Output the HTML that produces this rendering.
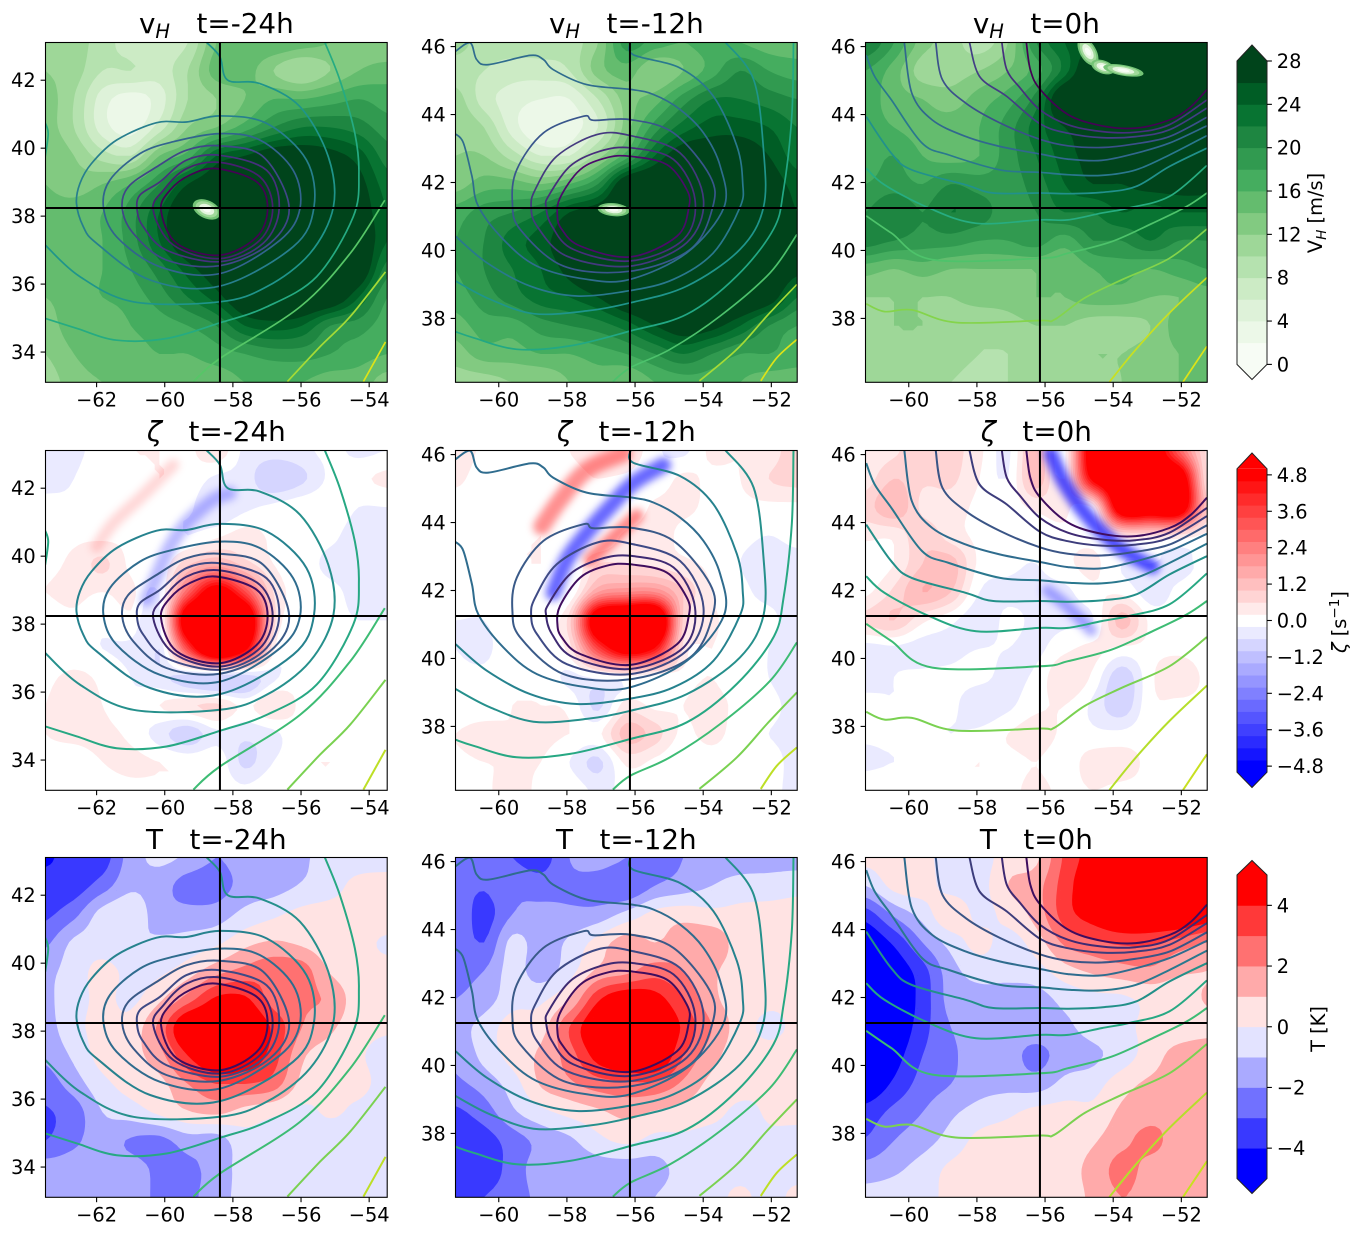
<!DOCTYPE html>
<html lang="en">
<head>
<meta charset="utf-8">
<title>Cyclone composite panels</title>
<style>
html,body{margin:0;padding:0;background:#fff;}
svg{display:block;}
text{font-family:"DejaVu Sans","Liberation Sans",sans-serif;fill:#000;}
</style>
</head>
<body>
<svg id="figure" xmlns="http://www.w3.org/2000/svg" width="1363" height="1234" viewBox="0 0 1363 1234">
<defs><filter id="stripe-blur" x="-30%" y="-30%" width="160%" height="160%"><feGaussianBlur stdDeviation="4"/></filter></defs>
</svg>
<script>
/* ---------- labels & ticks ---------- */
const timeLabels = ['t=-24h', 't=-12h', 't=0h'];
const lonStart = [-63.5, -61.27, -61.27];
const latTop = [43.11, 46.12, 46.12];
const lonTicks = [[-62,-60,-58,-56,-54], [-60,-58,-56,-54,-52], [-60,-58,-56,-54,-52]];
const latTicks = [[34,36,38,40,42], [38,40,42,44,46], [38,40,42,44,46]];
const crossLon = [-58.38, -56.15, -56.15];
const crossLat = [38.24, 41.25, 41.25];

const vhLevels = [0,2,4,6,8,10,12,14,16,18,20,22,24,26,28];
const vortLevels = [-5,-4.6,-4.2,-3.8,-3.4,-3,-2.6,-2.2,-1.8,-1.4,-1,-0.6,-0.2,0.2,0.6,1,1.4,1.8,2.2,2.6,3,3.4,3.8,4.2,4.6,5];
const tempLevels = [-5,-4,-3,-2,-1,0,1,2,3,4,5];
const vhTicks = [0,4,8,12,16,20,24,28];
const vortTicks = [-4.8,-3.6,-2.4,-1.2,0,1.2,2.4,3.6,4.8];
const vortTickText = ['\u22124.8','\u22123.6','\u22122.4','\u22121.2','0.0','1.2','2.4','3.6','4.8'];
const tempTicks = [-4,-2,0,2,4];

/* ---------- wind speed fields (13 x 13, north to south) ---------- */
const vhGrid24 = [
[12,11,9,7,7,8,14,16,16,15,14,13,12],
[12,11,8,8,7,10,15,15,12,10,12,14,15],
[13,10,5,3,5,10,12,14,16,16,17,18,17],
[13,10,5,3,7,12,14,17,20,22,22,21,19],
[14,12,9,8,14,17,24,26,28,28,27,25,21],
[14,13,14,16,20,26,29,30,30,30,29,27,23],
[15,15,16,19,24,30,30,30,30,30,30,28,24],
[16,15,16,19,24,29,30,30,30,30,30,29,24],
[15,15,16,18,21,25,28,30,30,30,30,29,21],
[14,15,16,17,19,22,25,29,30,30,29,24,18],
[13,15,14,16,17,18,20,24,25,24,20,19,17],
[12,14,15,15,16,16,17,18,19,19,18,17,16],
[11,13,14,14,14,15,15,16,16,16,15,15,13]];
const vhGrid12 = [
[11,9,9,9,9,12,19,17,16,17,16,15,15],
[9,8,7,7,8,13,15,12,14,17,20,18,17],
[11,7,5,4,4,8,13,15,19,22,22,21,20],
[12,10,5,2,3,6,13,19,23,25,25,24,22],
[12,12,9,6,6,11,17,24,28,28,28,26,23],
[13,15,15,14,16,20,29,30,30,30,30,28,25],
[17,19,20,22,26,28,30,30,30,30,30,30,26],
[18,20,23,25,28,30,30,30,30,30,30,30,28],
[18,20,22,24,27,30,30,30,30,30,30,30,27],
[17,19,21,23,24,26,29,30,30,30,30,28,22],
[15,17,17,19,20,21,23,26,28,27,24,20,18],
[13,15,15,16,16,17,18,20,22,20,18,18,17],
[11,11,12,12,14,15,14,16,17,17,16,15,15]];
const vhGrid0 = [
[22,18,13,11,9,12,20,24,26,30,30,30,30],
[18,15,11,11,12,14,17,23,30,30,30,30,30],
[17,15,14,13,15,17,21,30,30,30,30,30,30],
[17,16,15,15,16,19,23,26,28,30,30,30,30],
[17,18,16,15,16,19,22,25,27,28,28,28,28],
[18,19,18,20,19,19,21,24,26,26,27,27,27],
[20,22,20,22,21,19,20,22,22,24,23,24,24],
[21,20,19,19,18,18,19,17,20,20,22,20,20],
[15,14,15,14,14,14,14,14,16,17,16,17,18],
[12,12,12,12,13,13,14,14,15,15,14,14,15],
[11,12,12,11,10,11,12,12,11,11,12,15,15],
[10,11,11,11,10,10,11,11,12,12,13,14,15],
[10,10,10,10,9,10,11,11,11,12,13,14,15]];

/* ---------- vorticity fields ---------- */
const vortGrid24 = [
[-.3,-.3,0,.2,.2,.1,.5,-.3,-.4,-.3,-.1,-.3,-.2],
[-.3,-.2,.1,.1,.2,.1,-.3,-.4,-1,-.7,-.1,.1,.3],
[-.1,-.1,.1,.2,.1,-.1,-.6,-.3,-.1,.1,.1,-.2,-.2],
[0,.1,.1,.1,-.1,-.2,.1,.4,.1,0,-.1,-.4,-.4],
[.1,.3,.7,.1,-.1,.9,1.5,.8,.2,0,-.3,-.3,-.3],
[.2,.3,.2,.3,-.2,3,5.5,3.5,.6,.1,-.1,-.3,-.3],
[0,.1,-.1,.1,-.3,6,7,6.5,.8,.1,-.1,-.2,-.2],
[-.2,-.1,-.2,-.3,-.6,3.5,7,5,.3,0,-.1,-.1,-.2],
[.1,.3,.1,-.2,-.5,-.8,-1,-.9,-.3,.1,0,-.1,-.2],
[.2,.4,.2,-.1,.2,.5,.7,.1,.6,.1,0,-.1,-.2],
[.2,.3,.3,.1,-.4,-.9,-.3,-.5,-.3,.1,-.1,-.2,-.2],
[.1,0,.2,.3,.2,.1,.1,-.7,-.2,.1,.2,-.1,-.2],
[-.2,-.2,0,.1,.1,.1,.1,-.1,.2,.1,0,-.2,-.2]];
const vortGrid12 = [
[.5,.1,0,0,.2,.4,.6,-.1,-.3,.3,.2,.3,1],
[.3,0,0,.1,.1,.2,.1,-.1,.3,.1,.2,.6,.8],
[0,0,0,.1,.2,.1,-.2,.3,.3,.1,.1,.1,.1],
[0,0,.1,.2,.1,-.2,.3,.4,.1,0,-.1,-.2,-.1],
[0,-.1,.1,.2,-.2,.6,.6,.5,.3,.1,-.2,-.3,-.3],
[0,-.1,0,-.1,-.2,1.8,2.2,2.2,1,.2,-.1,-.3,-.3],
[-.2,-.2,0,.1,.8,6,7,7,.9,.3,0,-.1,-.4],
[-.2,-.3,.1,.1,.4,3.5,5.5,4.5,.5,.2,.1,-.2,-.4],
[-.1,-.1,.1,.1,-.3,-.1,.1,-.1,.1,.2,0,-.2,-.4],
[-.1,-.1,.2,.2,.1,-.7,.4,.1,.2,.3,.1,-.1,-.3],
[.2,.4,.2,.3,.2,.1,1.2,.8,.1,.4,-.1,-.2,-.3],
[.1,.2,.2,.2,-.2,-.7,.3,.1,-.2,-.1,-.2,-.1,-.3],
[-.1,.1,.4,.1,.1,-.3,-.1,-.1,.1,.1,0,-.1,-.3]];
const vortGrid0 = [
[.3,.5,1,.8,.3,-.3,1.3,.1,6,6,6,3,.5],
[.4,1,.7,.7,.2,-.2,1.3,.2,5,6,6,6,.5],
[.8,1.4,.5,.4,.1,0,.3,.3,.3,6,6,6,1],
[.3,.3,.9,.4,.1,-.1,0,.1,.1,.5,.6,.5,.1],
[-.1,.2,1,1.2,.1,-.1,-.2,.1,.3,-.2,-.2,-.3,-.1],
[.1,.7,1.4,1,-.2,-.3,-.3,-.3,.1,.1,-.4,-.1,.1],
[.7,1,.3,-.1,-.5,-.1,-.3,-.3,-.2,1.2,.1,0,0],
[-.4,-.3,-.4,-.3,-.2,-.2,-.3,.1,.3,.1,.1,.1,0],
[-.6,-.2,-.1,-.1,-.1,-.3,-.1,.6,.1,-.9,.1,.5,.1],
[.1,-.2,-.1,-.1,-.5,-.3,.1,.2,-.3,-.9,.1,.1,.1],
[-.1,-.1,-.2,-.2,-.1,.2,.4,.1,-.1,-.1,.1,.1,.1],
[-.3,-.2,-.2,.1,.2,.1,.2,0,.4,.4,.1,.1,-.1],
[.1,.1,0,.1,.1,.1,.3,.1,.2,.1,.1,0,-.2]];

/* narrow vorticity streaks: peak value, width (deg), lon/lat path */
const vortStripes24 = [
  {value:-1.4, width:.4, path:[[-58.09,41.85],[-58.58,41.66],[-59.36,40.97],[-59.85,40.28],[-60.24,39.4],[-60.53,38.72]]},
  {value:.8, width:.35, path:[[-59.75,42.69],[-60.63,41.8],[-61.51,40.97],[-62,40.28]]}
];
const vortStripes12 = [
  {value:2.2, width:.5, path:[[-56.34,46.03],[-57.42,45.54],[-58.2,44.66],[-58.74,43.88]]},
  {value:-3, width:.45, path:[[-55.17,45.69],[-56.05,45.16],[-56.73,44.47],[-57.42,43.69],[-58,42.91],[-58.4,41.93]]},
  {value:2.4, width:.4, path:[[-55.95,44.2],[-57.32,42.91]]}
];
const vortStripes0 = [
  {value:-3.5, width:.42, path:[[-55.83,46.03],[-55.43,45.15],[-54.74,44.17],[-53.84,43.28],[-52.85,42.7]]},
  {value:-1.7, width:.35, path:[[-55.93,42],[-55.33,41.52],[-54.64,40.83]]}
];

/* ---------- temperature fields ---------- */
const tempGrid24 = [
[-4.2,-3.5,-3.5,-1.5,-.8,-1.2,-2,-1.5,-1.5,-1.2,-.5,-.5,-.3],
[-3.5,-3.5,-2.5,-1.2,-1.5,-2.5,-2.5,-1.6,-1.4,-.9,-.4,.3,.3],
[-3.2,-2.3,-.6,-.3,-1.5,-1.6,-1.5,-.7,-.2,.3,.4,.3,.4],
[-2.2,-.8,-.5,-1,-.8,-.6,-.2,.7,1.1,.8,.3,.2,-.1],
[-1.3,-.5,.3,-.3,-.2,.5,1.6,2.3,2.7,2.5,.9,.3,.2],
[-1.2,-.4,.2,-.2,.8,2.5,4.2,4.2,2.6,2.2,1.8,.4,.2],
[-1.4,-.3,.3,.4,2.3,5.5,5.5,5.5,3.8,2,1.2,.3,.1],
[-1.8,-.8,.4,.7,1.6,4,5.5,5,3.5,1.2,.5,.1,-.3],
[-2.5,-1.5,-.3,.4,.7,2,3,3,2.5,.7,.1,.2,-.3],
[-3.1,-2.5,-1,-.5,.2,.9,1.2,.6,.2,-.2,.1,-.2,-.5],
[-3,-2.2,-1.6,-2.1,-2.3,-1.5,-1.5,-.3,-.4,-.5,-.5,-.5,-.5],
[-1.5,-1.5,-1.6,-1.6,-2.2,-2.2,-1.6,-.6,-.7,-.5,-.5,-.5,-.5],
[-1.5,-1.5,-1.5,-1.5,-2.2,-2.2,-1.5,-.6,-.5,-.5,-.5,-.5,-.5]];
const tempGrid12 = [
[-2,-2.5,-3,-3.5,-2,-1.5,-2,-2.5,-2,-1.5,-1.5,-1.5,-1.5],
[-2.5,-2.9,-2.2,-2.5,-2.2,-2.5,-3,-2,-1.5,-1,-.6,-.5,-.3],
[-2.2,-3.4,-2,-1.7,-1.8,-1.6,-.7,.3,.6,.3,.3,.3,.3],
[-2.2,-3,-.7,-1.5,-.8,.4,1.5,1,1.6,1.7,.5,.2,.2],
[-2.2,-2,-.6,-1.5,-.4,1.2,1.7,2.5,2,1.2,.5,.3,.2],
[-2,-1.5,-.4,-.2,1,3.8,5,4.5,3,1.3,.5,.2,.2],
[-1.4,-.6,.5,.6,3,5.2,5.5,5.5,3.8,2,.5,-.2,.2],
[-1.8,-.7,.4,1.2,2.5,4.5,5.5,5.5,3,1.4,.4,.3,.4],
[-2.2,-1.6,-.5,1.1,1.8,2.5,2.8,2.8,1.8,.7,.3,.1,.3],
[-3.2,-2.5,-1.2,-.3,.3,.8,1.3,.9,.6,.3,-.2,.1,.3],
[-3.7,-3.5,-2.5,-1.7,-1.2,-.3,.2,-.3,-.2,-.4,-.5,-.2,-.4],
[-3.7,-3.8,-2.5,-1.6,-1.6,-1.5,-1.5,-1.4,-.6,-.5,-.5,-.5,-.5],
[-3.5,-3,-2.4,-1.8,-1.6,-1.5,-1.5,-1,-.5,-.5,.3,-.5,.4]];
const tempGrid0 = [
[.3,.3,.3,-.5,-.5,.5,.8,3.2,4.5,5,5,5,5],
[-1,.3,.4,-.4,-.4,1,1.6,3.5,5,5.5,5.5,5.5,5],
[-3.5,-1.8,-.6,.8,-.3,.4,1.4,3.5,4.6,5.5,5.5,5.5,4.8],
[-5,-3.8,-2,-.6,.3,-.4,.5,2.2,2.8,3.2,3.2,2.6,2],
[-5.5,-4.8,-3.4,-1.4,-.6,-.7,-.4,.6,1.2,1.6,1.8,1.2,1],
[-5.5,-5,-3.6,-1.6,-1.4,-1.4,-1.4,-.7,-.3,-.2,.3,.4,1.1],
[-5.5,-5,-3.4,-2,-1.6,-1.5,-1.4,-1.2,-.6,-.3,.3,.4,.7],
[-5.5,-4.5,-3,-2.2,-1.5,-1.6,-2.3,-1.5,-1.2,-.5,.5,1.4,1.6],
[-5,-3.8,-2.6,-2,-1.4,-1.3,-1.5,-.7,-.4,.6,1.2,1.4,1.3],
[-3.6,-2.7,-2,-1.2,-.6,-.2,.3,.4,.3,1.2,1.6,1.7,1.4],
[-2.9,-2,-1.4,-.6,.3,.5,.6,.6,.9,1.7,2.3,1.5,1.4],
[-1.6,-1.2,-.6,.2,.4,.4,.5,.7,1.3,2.4,1.6,1.4,1.4],
[-.6,-.5,-.4,.3,.4,.4,.5,.6,1.2,2,1.5,1.4,1.4]];

/* pale wind minimum in the storm eye: lon, lat, half-width, half-height (deg), tilt */
const eyeSpots24 = [[-58.77,38.2,.36,.22,25]];
const eyeSpots12 = [[-56.63,41.2,.39,.16,5]];
const eyeSpots0 = [[-54.74,45.85,.2,.38,-30],[-54.3,45.4,.3,.16,20],[-53.7,45.3,.5,.13,10]];

/* ---------- height contours in lon/lat ---------- */
const contourLines24 = [
[[-60.11,38.18],[-59.85,38.76],[-59.26,39.21],[-58.48,39.40],[-57.30,39.01],[-56.98,38.23],[-57.30,37.39],[-58.38,36.85],[-59.65,37.2]],
[[-60.34,38.18],[-60.04,38.76],[-59.36,39.4],[-58.38,39.58],[-57.21,39.16],[-56.83,38.23],[-57.21,37.29],[-58.38,36.75],[-59.75,37.15]],
[[-60.81,38.18],[-60.73,38.62],[-60.14,39.01],[-59.36,39.65],[-58.38,39.79],[-57.01,39.35],[-56.64,38.23],[-57.11,37.2],[-58.38,36.66],[-59.95,37.0],[-60.63,37.69]],
[[-61.25,38.23],[-61.07,38.86],[-60.24,39.45],[-59.36,39.94],[-58.38,40.07],[-57.11,39.75],[-56.35,38.27],[-56.91,37.2],[-58.38,36.54],[-59.95,36.71],[-60.92,37.49]],
[[-61.8,38.27],[-61.61,39.06],[-60.73,39.84],[-59.75,40.19],[-58.38,40.43],[-57.21,40.24],[-56.23,39.35],[-56.03,38.23],[-56.62,37.29],[-58.38,36.31],[-60.14,36.51],[-61.41,37.39]],
[[-62.59,38.37],[-62.49,38.96],[-62.15,39.55],[-61.41,40.24],[-60.24,40.75],[-59.36,40.77],[-58.38,40.95],[-57.01,40.73],[-55.84,39.65],[-55.62,38.27],[-56.23,37.1],[-58.38,35.94],[-60.43,36.12],[-62,37.2],[-62.39,37.69]],
[[-58.77,43.11],[-58.38,42.69],[-58.15,42],[-57.21,41.9],[-56.03,41.22],[-55.2,39.75],[-55.05,38.27],[-55.74,36.9],[-57.01,35.92],[-58.38,35.48],[-60.92,35.48],[-62.49,36.22],[-63.51,37.15]],
[[-55.3,43.11],[-54.86,42],[-54.42,40.43],[-54.3,39.25],[-54.47,37.98],[-55.54,36.22],[-57.01,35.33],[-58.38,34.86],[-59.95,34.4],[-61.41,34.35],[-62.59,34.7],[-63.51,34.99]],
[[-63.51,40.75],[-63.42,40.43],[-63.51,39.75]],
[[-53.54,38.47],[-54.56,36.9],[-56.03,35.33],[-58.38,33.81],[-59.16,33.13]],
[[-53.52,36.36],[-54.56,35.04],[-55.44,34.16],[-56.4,33.13]],
[[-53.52,34.3],[-54.17,33.13]]];
const contourLevel24 = [0,1,2,3,4,5,6,7,7,8,9,10];
const closedRings24 = 6;

const contourLines12 = [
[[-58.28,41.01],[-58.2,41.55],[-57.61,42.38],[-56.83,42.73],[-56.14,42.77],[-55.07,42.53],[-54.48,41.79],[-54.42,41.27],[-54.77,40.42],[-56.14,39.81],[-57.61,40.13],[-58.15,40.62]],
[[-58.61,41.27],[-58.54,41.6],[-57.91,42.48],[-57.03,42.92],[-56.14,43.02],[-54.87,42.68],[-54.24,41.5],[-54.58,40.32],[-56.14,39.69],[-57.81,40.03],[-58.44,40.72]],
[[-59.05,41.3],[-58.93,41.79],[-58.3,42.77],[-57.12,43.41],[-56.14,43.38],[-54.68,42.87],[-53.99,41.5],[-54.48,40.23],[-56.14,39.54],[-58,39.83],[-58.88,40.72]],
[[-59.6,41.4],[-59.47,42.38],[-58.69,43.46],[-57.51,43.95],[-57.22,43.83],[-56.14,43.85],[-54.87,43.46],[-53.8,42.19],[-53.72,41.27],[-54.38,40.03],[-56.14,39.39],[-58.1,39.54],[-59.37,40.62]],
[[-61.27,45.86],[-60.84,46.11],[-60.65,45.62],[-60.3,45.47],[-59.08,45.74],[-58.69,45.62],[-58.4,45.32],[-57.42,44.88],[-56.14,44.74],[-55.46,44.59],[-54.68,44.15],[-53.99,43.46],[-53.5,42.48],[-53.39,41.27],[-54.48,39.93],[-56.14,39.15],[-57.42,39.15],[-58.88,39.54],[-59.86,40.32],[-60.6,41.3],[-60.79,42.19],[-61.04,43.17],[-61.27,43.43]],
[[-56.13,46.14],[-56.05,45.76],[-54.68,45.37],[-53.7,44.54],[-53.01,43.07],[-52.84,41.99],[-52.92,41.27],[-53.7,39.93],[-54.87,39.15],[-56.14,38.82],[-57.71,38.66],[-59.08,38.95],[-60.35,39.64],[-61.27,40.42]],
[[-53.36,46.14],[-52.52,45.03],[-52.23,42.97],[-52.23,41.27],[-52.92,40.03],[-54.48,38.95],[-56.14,38.46],[-57.42,38.22],[-58.98,38.14],[-60.25,38.56],[-61.27,39.1]],
[[-51.35,46.14],[-51.4,43.95],[-51.64,41.79],[-51.94,40.62],[-53.01,39.25],[-54.48,38.12],[-56.14,37.63],[-57.91,37.19],[-59.47,37.09],[-60.74,37.43],[-61.27,37.61]],
[[-51.25,40.47],[-52.04,39.34],[-53.5,38.07],[-54.97,37.09],[-56.14,36.55],[-56.65,36.14]],
[[-51.25,39],[-52.13,38.07],[-53.01,37.09],[-54.11,36.16]],
[[-51.25,37.38],[-51.84,36.84],[-52.31,36.16]]];
const contourLevel12 = [0,1,2,3,4,5,6,7,8,9,10];
const closedRings12 = 4;

const contourLines0 = [
[[-56.55,46.13],[-56.43,45.31],[-56.15,44.75],[-55.33,44.0],[-54.34,43.67],[-53.34,43.6],[-52.35,43.84],[-51.75,44.2],[-51.25,44.73]],
[[-57.27,46.13],[-57.12,45.31],[-56.72,44.77],[-56.15,44.14],[-55.33,43.7],[-54.34,43.5],[-53.34,43.48],[-52.35,43.7],[-51.25,44.43]],
[[-58.22,46.13],[-57.92,45.12],[-57.12,44.53],[-56.15,43.73],[-55.33,43.45],[-54.34,43.32],[-53.34,43.35],[-52.35,43.55],[-51.25,44.19]],
[[-59.21,46.13],[-59.01,45.02],[-58.32,44.33],[-57.32,43.75],[-56.15,43.27],[-55.33,43.08],[-54.34,43.03],[-53.34,43.14],[-52.35,43.35],[-51.25,43.92]],
[[-60.13,46.13],[-59.91,44.63],[-59.31,43.84],[-58.32,43.35],[-57.32,43.06],[-56.15,42.84],[-55.33,42.69],[-54.34,42.65],[-53.34,42.86],[-52.35,43.16],[-51.25,43.67]],
[[-61.25,45.75],[-61.0,45.12],[-60.51,44.43],[-59.61,43.16],[-58.82,42.81],[-57.32,42.37],[-56.15,42.30],[-55.33,42.23],[-54.34,42.21],[-53.34,42.37],[-52.35,42.81],[-51.25,43.38]],
[[-61.25,43.94],[-60.51,42.86],[-59.91,42.37],[-58.32,41.93],[-57.52,41.69],[-56.15,41.69],[-55.33,41.67],[-54.34,41.71],[-53.34,41.88],[-52.35,42.47],[-51.25,43.01]],
[[-61.25,42.42],[-60.71,41.93],[-59.41,41.25],[-58.02,40.8],[-56.15,40.90],[-55.33,40.90],[-54.34,41.1],[-53.54,41.25],[-52.35,41.59],[-51.25,42.5]],
[[-61.25,41.02],[-60.51,40.51],[-59.31,39.73],[-56.15,39.77],[-55.33,39.92],[-54.04,40.26],[-52.85,40.8],[-51.85,41.29],[-51.25,41.69]],
[[-61.25,38.43],[-60.71,38.2],[-59.91,38.25],[-58.62,37.88],[-56.15,37.94],[-55.73,37.96],[-54.84,38.6],[-53.74,39.14],[-52.35,39.77],[-51.25,40.63]],
[[-54.11,36.13],[-53.34,37.08],[-52.35,38.16],[-51.25,39.2]],
[[-51.95,36.13],[-51.25,37.18]]];
const contourLevel0 = [0,1,2,3,4,5,6,7,8,9,10,11];
const closedRings0 = 0;

/* contour colours by level: wind row, then the two lower rows */
const lineColorsTop24 = ['#440154','#471f70','#46307e','#404688','#32648e','#277f8e','#1f958b','#25ab82','#56c667','#a5db36','#dde318'];
const lineColorsTop12 = ['#4b0a6a','#472d7b','#44397f','#39568c','#2f6c8e','#29798e','#1f958b','#22a884','#4cc26c','#a5db36','#dde318'];
const lineColorsTop0 = ['#440154','#46307e','#433e85','#3b518b','#31688e','#2a788e','#21918c','#27ad81','#4ec36b','#84d44b','#c8e020','#dde318'];
const lineColorsLow24 = ['#3f0d5e','#3e2a72','#3e4a85','#3a5a88','#2f6c8e','#26828e','#26908c','#27a883','#3dbc74','#7ad151','#bddf26'];
const lineColorsLow12 = ['#3f0d5e','#3e2a72','#3e4a85','#3a5a88','#2f6c8e','#26828e','#26908c','#27a883','#3dbc74','#7ad151','#bddf26'];
const lineColorsLow0 = ['#3f0d5e','#3e2a72','#3d3d7c','#3a5586','#2f6c8e','#2a788e','#239089','#27a883','#3dbc74','#7ad151','#b5de2b','#c8e020'];

/* ---------- layout ---------- */
const svg = document.getElementById('figure');
const NS = 'http://www.w3.org/2000/svg';
const colLeft = [45.5, 455.5, 865.5];
const rowTop = [42.5, 450.5, 857.5];
const panelW = 341.7, panelH = 339.8, pxPerDeg = 34.07, pxPerLat = 33.98;
const titleBase = [33, 441, 849];
const barLeft = 1237, barRight = 1267, barTip = 1252;
const barGeom = [{top:61,bottom:364.4,tipTop:45,tipBottom:379.5},
                 {top:468.8,bottom:772.2,tipTop:453,tipBottom:787.5},
                 {top:875,bottom:1178.5,tipTop:860.5,tipBottom:1193.5}];
const tickFont = 19.4, titleFont = 27.8;

function make(tag, parent, attrs, txt) {
  const e = document.createElementNS(NS, tag);
  for (const k in attrs) e.setAttribute(k, attrs[k]);
  if (txt !== undefined) e.textContent = txt;
  parent.appendChild(e);
  return e;
}
function mix(hexA, hexB, f) {
  const pa = [1,3,5].map(i => parseInt(hexA.substr(i,2),16));
  const pb = [1,3,5].map(i => parseInt(hexB.substr(i,2),16));
  return 'rgb(' + pa.map((v,i) => Math.round(v + (pb[i]-v)*f)).join(',') + ')';
}
const greenAnchors = ['#f7fcf5','#e5f5e0','#c7e9c0','#a1d99b','#74c476','#41ab5d','#238b45','#006d2c','#00441b'];
function greens(t) {
  const p = Math.min(t,0.9999)*8, i = Math.floor(p);
  return mix(greenAnchors[i], greenAnchors[i+1], p-i);
}
function bwr(t) {
  if (t < 0.5) { const v = Math.round(2*t*255); return 'rgb('+v+','+v+',255)'; }
  const v = Math.round(2*(1-t)*255); return 'rgb(255,'+v+','+v+')';
}
function bandColor(levels, cmap, k) { return cmap(k/(levels.length-2)); }

/* Catmull-Rom upsampling of a coarse grid, limited to the local cell range */
function cr(a,b,c,d,t){return 0.5*((2*b)+(-a+c)*t+(2*a-5*b+4*c-d)*t*t+(-a+3*b-3*c+d)*t*t*t);}
function upsample(grid, factor) {
  const n = grid.length, m = grid[0].length;
  const at = (j,i) => grid[Math.max(0,Math.min(n-1,j))][Math.max(0,Math.min(m-1,i))];
  const N = (n-1)*factor+1, M = (m-1)*factor+1, out = [];
  for (let J=0; J<N; J++) {
    const row = [], j = Math.min(n-2, Math.floor(J/factor)), tj = J/factor-j;
    for (let I=0; I<M; I++) {
      const i = Math.min(m-2, Math.floor(I/factor)), ti = I/factor-i;
      const col = [];
      for (let q=-1; q<=2; q++) col.push(cr(at(j+q,i-1),at(j+q,i),at(j+q,i+1),at(j+q,i+2),ti));
      let v = cr(col[0],col[1],col[2],col[3],tj);
      const lo = Math.min(at(j,i),at(j,i+1),at(j+1,i),at(j+1,i+1));
      const hi = Math.max(at(j,i),at(j,i+1),at(j+1,i),at(j+1,i+1));
      row.push(Math.max(lo,Math.min(hi,v)));
    }
    out.push(row);
  }
  return out;
}
/* region of field >= level as a single path (marching squares) */
function regionPath(f, level, px, py) {
  const N = f.length, M = f[0].length; let d = [];
  const fmt = v => v.toFixed(1);
  for (let J=0; J<N-1; J++) {
    let run = -1;
    for (let I=0; I<M-1; I++) {
      const c = [f[J][I], f[J][I+1], f[J+1][I+1], f[J+1][I]];
      const full = c[0]>=level && c[1]>=level && c[2]>=level && c[3]>=level;
      if (full) { if (run<0) run = I; continue; }
      if (run>=0) {
        d.push('M'+fmt(px(run))+' '+fmt(py(J))+'H'+fmt(px(I))+'V'+fmt(py(J+1))+'H'+fmt(px(run))+'Z');
        run = -1;
      }
      if (c[0]<level && c[1]<level && c[2]<level && c[3]<level) continue;
      const cx = [I,I+1,I+1,I], cy = [J,J,J+1,J+1], pts = [];
      for (let q=0; q<4; q++) {
        const r = (q+1)%4;
        if (c[q]>=level) pts.push([cx[q],cy[q]]);
        if ((c[q]>=level) !== (c[r]>=level)) {
          const t = (level-c[q])/(c[r]-c[q]);
          pts.push([cx[q]+(cx[r]-cx[q])*t, cy[q]+(cy[r]-cy[q])*t]);
        }
      }
      d.push('M'+pts.map(p => fmt(px(p[0]))+' '+fmt(py(p[1]))).join('L')+'Z');
    }
    if (run>=0) d.push('M'+fmt(px(run))+' '+fmt(py(J))+'H'+fmt(px(M-1))+'V'+fmt(py(J+1))+'H'+fmt(px(run))+'Z');
  }
  return d.join('');
}
function smoothPath(pts, closed) {
  const n = pts.length;
  const g = i => closed ? pts[(i+n)%n] : pts[Math.max(0,Math.min(n-1,i))];
  let d = 'M'+pts[0][0].toFixed(1)+' '+pts[0][1].toFixed(1);
  const last = closed ? n : n-1;
  for (let i=0; i<last; i++) {
    const p0=g(i-1),p1=g(i),p2=g(i+1),p3=g(i+2);
    d += 'C'+(p1[0]+(p2[0]-p0[0])/6).toFixed(1)+' '+(p1[1]+(p2[1]-p0[1])/6).toFixed(1)+' '+
         (p2[0]-(p3[0]-p1[0])/6).toFixed(1)+' '+(p2[1]-(p3[1]-p1[1])/6).toFixed(1)+' '+
         p2[0].toFixed(1)+' '+p2[1].toFixed(1);
  }
  return d + (closed ? 'Z' : '');
}

const rowsInfo = [
  {key:'vh',   grids:[vhGrid24,vhGrid12,vhGrid0],       levels:vhLevels,   cmap:greens, colors:[lineColorsTop24,lineColorsTop12,lineColorsTop0], lineWidth:1.7},
  {key:'zeta', grids:[vortGrid24,vortGrid12,vortGrid0], levels:vortLevels, cmap:bwr,    colors:[lineColorsLow24,lineColorsLow12,lineColorsLow0], lineWidth:2},
  {key:'temp', grids:[tempGrid24,tempGrid12,tempGrid0], levels:tempLevels, cmap:bwr,    colors:[lineColorsLow24,lineColorsLow12,lineColorsLow0], lineWidth:2}
];
const allLines = [contourLines24, contourLines12, contourLines0];
const allLevels = [contourLevel24, contourLevel12, contourLevel0];
const allClosed = [closedRings24, closedRings12, closedRings0];
const allSpots = [eyeSpots24, eyeSpots12, eyeSpots0];
const allStripes = [vortStripes24, vortStripes12, vortStripes0];
const spotColors = ['#74c476','#a1d99b','#e5f5e0','#f7fcf5'];
const spotSizes = [1.2,0.95,0.65,0.35];

function addTitle(r, c) {
  const cx = colLeft[c] + panelW/2;
  const t = make('text', svg, {x:cx, y:titleBase[r], 'text-anchor':'middle', 'font-size':titleFont});
  
  
  const gap = '\u00a0\u00a0\u00a0';
  if (r === 0) {
    make('tspan', t, {}, 'v');
    make('tspan', t, {'font-size':19.4,'font-style':'italic',dy:5}, 'H');
    make('tspan', t, {dy:-5}, gap + timeLabels[c]);
  } else if (r === 1) {
    make('tspan', t, {'font-style':'italic'}, '\u03b6');
    make('tspan', t, {}, gap + timeLabels[c]);
  } else {
    make('tspan', t, {}, 'T' + gap + timeLabels[c]);
  }
}

for (let r=0; r<3; r++) for (let c=0; c<3; c++) {
  const info = rowsInfo[r];
  const L = colLeft[c], T = rowTop[r];
  const xOf = lon => L + (lon-lonStart[c])*pxPerDeg;
  const yOf = lat => T + (latTop[c]-lat)*pxPerLat;
  const lonEnd = lonStart[c] + panelW/pxPerDeg, latEnd = latTop[c] - panelH/pxPerLat;

  addTitle(r, c);
  const g = make('g', svg, {});
  
  
  const clipId = 'clip-'+r+'-'+c;
  const clip = make('clipPath', g, {id:clipId});
  make('rect', clip, {x:L,y:T,width:panelW,height:panelH});
  const plot = make('g', g, {'clip-path':'url(#'+clipId+')'});

  const base = make('rect', plot, {x:L,y:T,width:panelW,height:panelH,fill:bandColor(info.levels,info.cmap,0)});
  
  

  const factor = 6;
  const fine = upsample(info.grids[c], factor);
  const steps = fine.length-1;
  const px = i => xOf(lonStart[c] + (lonEnd-lonStart[c])*i/steps);
  const py = j => yOf(latTop[c] + (latEnd-latTop[c])*j/steps);
  for (let k=1; k<info.levels.length-1; k++) {
    const d = regionPath(fine, info.levels[k], px, py);
    if (!d) continue;
    const band = make('path', plot, {d:d, fill:bandColor(info.levels,info.cmap,k)});
    
    
  }
  if (r === 0) {
    allSpots[c].forEach(s => {
      spotSizes.forEach((sz, q) => {
        const e = make('ellipse', plot, {cx:xOf(s[0]),cy:yOf(s[1]),rx:s[2]*sz*pxPerDeg,ry:s[3]*sz*pxPerLat,
          fill:spotColors[q],transform:'rotate('+s[4]+' '+xOf(s[0])+' '+yOf(s[1])+')'});
        
        
      });
    });
  }
  if (r === 1) {
    allStripes[c].forEach(s => {
      const pts = s.path.map(p => [xOf(p[0]), yOf(p[1])]);
      const st = make('path', plot, {d:smoothPath(pts,false), fill:'none',
        stroke:s.value<0 ? '#0000ff' : '#ff0000', 'stroke-opacity':Math.min(1,Math.abs(s.value)/5),
        'stroke-width':s.width*pxPerDeg, 'stroke-linecap':'round', filter:'url(#stripe-blur)'});
      
      
    });
  }
  allLines[c].forEach((line, i) => {
    const pts = line.map(p => [xOf(p[0]), yOf(p[1])]);
    const cl = make('path', plot, {d:smoothPath(pts, i < allClosed[c]), fill:'none',
      stroke:info.colors[c][allLevels[c][i]], 'stroke-width':info.lineWidth, 'stroke-linejoin':'round'});
    
    
  });
  const v = make('line', plot, {x1:xOf(crossLon[c]),x2:xOf(crossLon[c]),y1:T,y2:T+panelH,stroke:'#000','stroke-width':2});
  
  
  const h = make('line', plot, {x1:L,x2:L+panelW,y1:yOf(crossLat[c]),y2:yOf(crossLat[c]),stroke:'#000','stroke-width':2});
  
  
  const frame = make('rect', g, {x:L,y:T,width:panelW,height:panelH,fill:'none',stroke:'#000','stroke-width':1.1});
  
  

  lonTicks[c].forEach(tv => {
    const x = xOf(tv), yb = T+panelH;
    const tk = make('line', g, {x1:x,x2:x,y1:yb,y2:yb+4.9,stroke:'#000','stroke-width':1.1});
    
    
    const lb = make('text', g, {x:x,y:yb+24,'text-anchor':'middle','font-size':tickFont}, '\u2212'+Math.abs(tv));
    
    
  });
  latTicks[c].forEach(tv => {
    const y = yOf(tv);
    const tk = make('line', g, {x1:L-4.9,x2:L,y1:y,y2:y,stroke:'#000','stroke-width':1.1});
    
    
    const lb = make('text', g, {x:L-9.8,y:y+7,'text-anchor':'end','font-size':tickFont}, String(tv));
    
    
  });
}

/* ---------- colour bars ---------- */
const barTicks = [vhTicks, vortTicks, tempTicks];
const barTickText = [vhTicks.map(String), vortTickText, tempTicks.map(v => v<0 ? '\u2212'+Math.abs(v) : String(v))];
for (let r=0; r<3; r++) {
  const info = rowsInfo[r], geo = barGeom[r], lv = info.levels;
  const lo = lv[0], hi = lv[lv.length-1];
  const yOf = v => geo.bottom - (v-lo)/(hi-lo)*(geo.bottom-geo.top);
  const g = make('g', svg, {});
  
  
  const under = make('polygon', g, {points:barLeft+','+geo.bottom+' '+barRight+','+geo.bottom+' '+barTip+','+geo.tipBottom, fill:bandColor(lv,info.cmap,0)});
  
  
  const over = make('polygon', g, {points:barLeft+','+geo.top+' '+barRight+','+geo.top+' '+barTip+','+geo.tipTop, fill:bandColor(lv,info.cmap,lv.length-2)});
  
  
  for (let k=0; k<lv.length-1; k++) {
    const b = make('rect', g, {x:barLeft,y:yOf(lv[k+1]),width:barRight-barLeft,height:yOf(lv[k])-yOf(lv[k+1])+0.4,fill:bandColor(lv,info.cmap,k)});
    
    
  }
  const outline = make('polygon', g, {points:[[barLeft,geo.top],[barTip,geo.tipTop],[barRight,geo.top],[barRight,geo.bottom],[barTip,geo.tipBottom],[barLeft,geo.bottom]].map(p=>p.join(',')).join(' '),
    fill:'none',stroke:'#222','stroke-width':1});
  
  
  barTicks[r].forEach((tv,i) => {
    const y = yOf(tv);
    const tk = make('line', g, {x1:barRight,x2:barRight+4.9,y1:y,y2:y,stroke:'#000','stroke-width':1.1});
    
    
    const lb = make('text', g, {x:barRight+9.8,y:y+7,'font-size':tickFont}, barTickText[r][i]);
    
    
  });
}
const vhTitle = make('text', svg, {'font-size':tickFont,'text-anchor':'middle',transform:'translate(1322,213) rotate(-90)'});


make('tspan', vhTitle, {}, 'V');
make('tspan', vhTitle, {'font-size':13.6,'font-style':'italic',dy:4}, 'H');
make('tspan', vhTitle, {dy:-4}, ' [m/s]');
const zetaTitle = make('text', svg, {'font-size':tickFont,'text-anchor':'middle',transform:'translate(1346,622) rotate(-90)'});


make('tspan', zetaTitle, {'font-style':'italic'}, '\u03b6');
make('tspan', zetaTitle, {}, ' [s');
make('tspan', zetaTitle, {'font-size':13.6,dy:-7}, '\u22121');
make('tspan', zetaTitle, {dy:7}, ']');
const tempTitle = make('text', svg, {'font-size':tickFont,'text-anchor':'middle',transform:'translate(1325,1029) rotate(-90)'}, 'T [K]');


</script>
</body>
</html>
